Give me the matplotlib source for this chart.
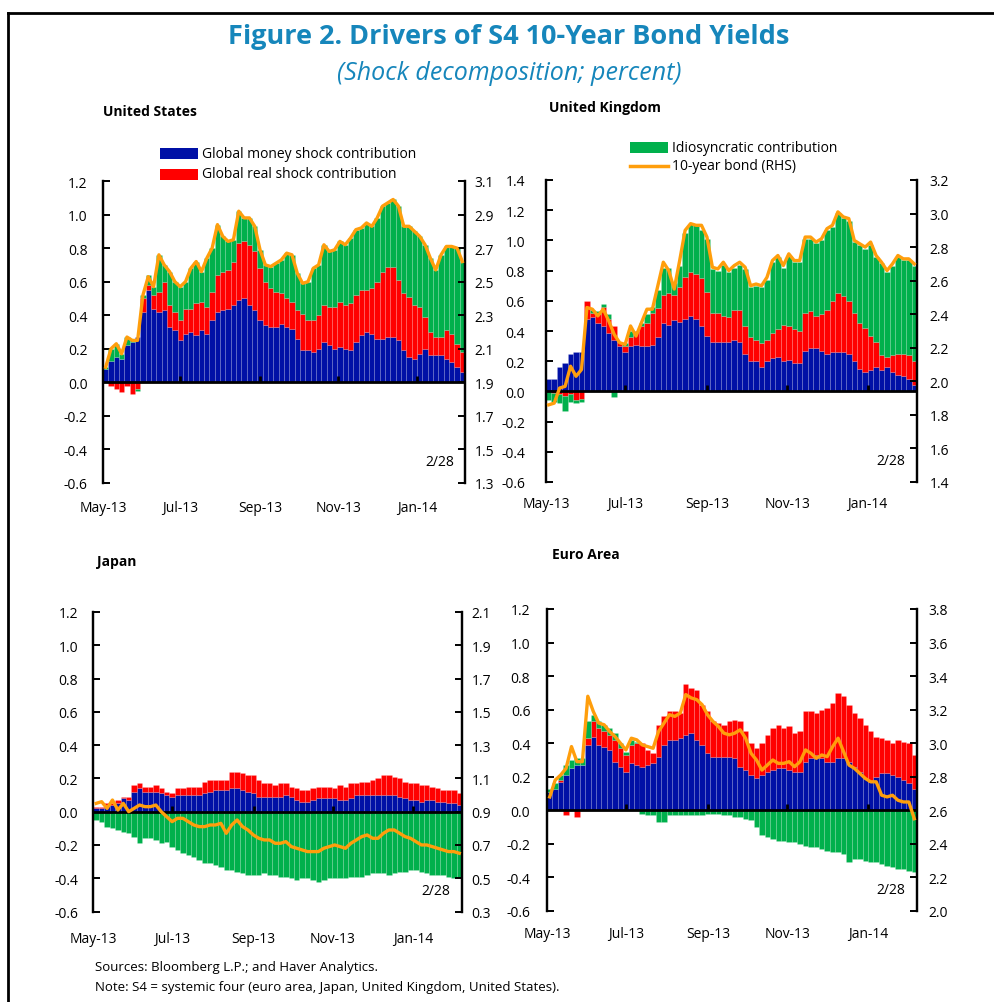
import matplotlib
matplotlib.use('Agg')
import matplotlib.pyplot as plt
from matplotlib.patches import Rectangle
from matplotlib.lines import Line2D

W, H = 995, 1003
plt.rcParams['font.family'] = ['Open Sans', 'DejaVu Sans']

BLUE = '#0010A6'
RED = '#FF0000'
GREEN = '#00B04C'
ORANGE = '#FF9E0C'
TITLE_C = '#1686BB'

month_labels = ['May-13', 'Jul-13', 'Sep-13', 'Nov-13', 'Jan-14']
month_frac = [0.0, 0.214, 0.435, 0.650, 0.867]

# ---------------- United States ----------------
us_money = [0.08,0.13,0.15,0.14,0.22,0.24,0.27,0.42,0.55,0.44, 0.42,0.43,0.33,0.31,0.25,0.29,0.30,0.28,0.31,0.29,
            0.37,0.42,0.43,0.44,0.46,0.49,0.50,0.46,0.43,0.37, 0.34,0.33,0.33,0.35,
            0.33,0.32,0.26,0.19,0.19,0.18,0.20,0.24,0.22,0.20, 0.21,0.20,0.19,0.24,0.28,0.30,0.29,0.26,0.26,0.27,
            0.27,0.25,0.19,0.15,0.14,0.17,0.20,0.16,0.16,0.16, 0.14,0.12,0.09,0.06]
us_real = [0.00,-0.02,-0.04,-0.06,-0.02,-0.07,-0.04,0.08,0.03,0.08, 0.12,0.17,0.13,0.11,0.12,0.15,0.14,0.19,0.17,0.16,
           0.17,0.22,0.23,0.23,0.26,0.34,0.34,0.36,0.35,0.31, 0.26,0.23,0.21,0.18,
           0.17,0.16,0.17,0.22,0.18,0.19,0.20,0.22,0.23,0.25, 0.27,0.26,0.28,0.28,0.27,0.25,0.27,0.34,0.40,0.42,
           0.42,0.36,0.34,0.36,0.32,0.28,0.19,0.14,0.11,0.11, 0.17,0.17,0.14,0.12]
us_idio = [0.01,0.07,0.08,0.03,0.05,0.01,-0.01,0.02,0.06,0.05, 0.22,0.10,0.20,0.18,0.20,0.16,0.24,0.25,0.18,0.29,
           0.26,0.30,0.21,0.17,0.13,0.19,0.14,0.16,0.15,0.11, 0.10,0.13,0.17,0.20,
           0.27,0.28,0.22,0.18,0.23,0.31,0.30,0.36,0.33,0.34, 0.36,0.36,0.39,0.39,0.37,0.40,0.37,0.38,0.39,0.38,
           0.40,0.44,0.40,0.42,0.44,0.42,0.43,0.44,0.40,0.49, 0.50,0.52,0.57,0.54]
us_bond = [1.99,2.10,2.13,2.07,2.17,2.15,2.15,2.42,2.53,2.47, 2.66,2.60,2.56,2.50,2.47,2.50,2.58,2.62,2.56,2.64,
           2.70,2.84,2.77,2.74,2.75,2.92,2.88,2.88,2.83,2.69, 2.60,2.59,2.61,2.63,
           2.67,2.66,2.55,2.49,2.50,2.58,2.60,2.72,2.68,2.69, 2.74,2.72,2.76,2.81,2.82,2.85,2.83,2.88,2.95,2.97,
           2.99,2.95,2.83,2.83,2.80,2.77,2.72,2.64,2.57,2.66, 2.71,2.71,2.70,2.62]

# ---------------- United Kingdom ----------------
uk_money = [0.08,0.08,0.16,0.19,0.25,0.26,0.26,0.48,0.49,0.45, 0.43,0.39,0.34,0.30,0.26,0.30,0.31,0.30,0.30,0.31,
            0.36,0.45,0.44,0.47,0.46,0.48,0.50,0.48,0.43,0.37, 0.33,0.33,0.33,0.33,
            0.34,0.33,0.25,0.20,0.20,0.16,0.20,0.22,0.23,0.20, 0.21,0.19,0.19,0.27,0.29,0.29,0.27,0.25,0.26,0.26,
            0.26,0.25,0.20,0.15,0.13,0.14,0.16,0.14,0.16,0.13, 0.11,0.10,0.08,0.04]
uk_real = [0.00,-0.01,-0.02,-0.03,-0.02,-0.06,-0.05,0.12,0.03,0.06, 0.13,0.09,0.09,0.03,0.04,0.06,0.09,0.13,0.15,0.21,
           0.19,0.19,0.21,0.17,0.23,0.28,0.29,0.30,0.32,0.29, 0.19,0.19,0.17,0.16,
           0.20,0.21,0.18,0.16,0.14,0.16,0.14,0.17,0.18,0.24, 0.22,0.22,0.21,0.25,0.24,0.21,0.24,0.29,0.34,0.39,
           0.37,0.35,0.32,0.30,0.29,0.23,0.17,0.10,0.07,0.11, 0.14,0.15,0.16,0.16]
uk_idio = [-0.06,-0.06,-0.06,-0.10,-0.05,-0.02,-0.02,0.00,0.02,0.02, 0.02,0.03,-0.04,0.00,0.02,0.04,0.00,0.02,0.06,0.04,
           0.12,0.18,0.17,0.08,0.14,0.29,0.32,0.32,0.32,0.35, 0.29,0.28,0.34,0.30,
           0.28,0.30,0.38,0.33,0.36,0.37,0.40,0.47,0.48,0.38, 0.47,0.45,0.46,0.49,0.48,0.48,0.49,0.53,0.49,0.53,
           0.52,0.53,0.47,0.52,0.52,0.60,0.56,0.61,0.56,0.59, 0.64,0.62,0.63,0.63]
uk_bond = [1.86,1.87,1.96,1.97,2.09,2.03,2.07,2.44,2.43,2.39, 2.43,2.36,2.28,2.23,2.22,2.33,2.27,2.35,2.43,2.43,
           2.57,2.71,2.66,2.55,2.72,2.90,2.94,2.93,2.93,2.86, 2.68,2.67,2.71,2.66,
           2.69,2.71,2.68,2.57,2.58,2.57,2.62,2.72,2.75,2.69, 2.76,2.72,2.72,2.86,2.86,2.83,2.85,2.91,2.93,3.01,
           2.98,2.97,2.84,2.82,2.80,2.83,2.75,2.71,2.66,2.70, 2.75,2.73,2.73,2.70]

# ---------------- Japan ----------------
jp_money = [0.02,0.02,0.04,0.04,0.05,0.08,0.07,0.12,0.14,0.12, 0.12,0.12,0.11,0.10,0.09,0.10,0.10,0.10,0.10,0.10,
            0.11,0.12,0.13,0.13,0.13,0.14,0.14,0.13,0.12,0.11, 0.09,0.09,0.09,0.09,
            0.09,0.10,0.09,0.07,0.06,0.06,0.07,0.08,0.08,0.08, 0.08,0.07,0.07,0.08,0.10,0.10,0.10,0.10,0.10,0.10,
            0.10,0.10,0.09,0.08,0.07,0.07,0.06,0.07,0.07,0.06, 0.06,0.05,0.05,0.04]
jp_real = [0.01,0.01,0.01,0.01,0.02,0.01,0.02,0.04,0.03,0.03, 0.03,0.04,0.03,0.02,0.02,0.04,0.04,0.05,0.05,0.05,
           0.07,0.07,0.06,0.06,0.06,0.10,0.10,0.10,0.10,0.11, 0.10,0.08,0.08,0.07,
           0.08,0.07,0.06,0.07,0.07,0.07,0.07,0.07,0.07,0.07, 0.06,0.09,0.08,0.09,0.07,0.08,0.08,0.09,0.10,0.12,
           0.12,0.11,0.11,0.10,0.10,0.10,0.10,0.09,0.08,0.08, 0.07,0.08,0.08,0.07]
jp_idio = [-0.05,-0.06,-0.09,-0.10,-0.11,-0.12,-0.13,-0.15,-0.19,-0.16, -0.16,-0.17,-0.19,-0.18,-0.21,-0.23,-0.25,-0.26,-0.27,-0.29,
           -0.31,-0.31,-0.32,-0.33,-0.35,-0.35,-0.36,-0.37,-0.38,-0.38, -0.38,-0.37,-0.38,-0.38,
           -0.39,-0.39,-0.40,-0.41,-0.40,-0.40,-0.41,-0.42,-0.41,-0.40, -0.40,-0.40,-0.40,-0.39,-0.39,-0.39,-0.38,-0.37,-0.37,-0.37,
           -0.38,-0.37,-0.36,-0.36,-0.35,-0.35,-0.36,-0.37,-0.38,-0.38, -0.38,-0.39,-0.40,-0.39]
jp_bond = [0.95,0.96,0.92,0.97,0.91,0.95,0.90,0.92,0.94,0.93, 0.93,0.94,0.90,0.87,0.84,0.86,0.86,0.84,0.82,0.81,
           0.81,0.82,0.82,0.83,0.77,0.82,0.85,0.81,0.79,0.76, 0.74,0.73,0.73,0.71,
           0.71,0.72,0.69,0.68,0.67,0.66,0.66,0.66,0.68,0.69, 0.70,0.69,0.68,0.71,0.73,0.75,0.76,0.74,0.74,0.77,
           0.79,0.79,0.77,0.75,0.74,0.72,0.70,0.70,0.69,0.68, 0.67,0.66,0.66,0.65]

# ---------------- Euro Area ----------------
ea_money = [0.11,0.13,0.17,0.21,0.25,0.27,0.27,0.39,0.44,0.39, 0.38,0.36,0.29,0.26,0.23,0.28,0.27,0.26,0.27,0.28,
            0.32,0.39,0.42,0.42,0.43,0.45,0.46,0.42,0.39,0.34, 0.32,0.32,0.32,0.32,
            0.31,0.26,0.24,0.21,0.19,0.21,0.23,0.24,0.25,0.25, 0.24,0.23,0.23,0.29,0.31,0.33,0.31,0.29,0.29,0.31,
            0.31,0.29,0.26,0.23,0.19,0.17,0.20,0.22,0.22,0.21, 0.20,0.18,0.16,0.13]
ea_real = [0.00,0.00,0.01,-0.03,0.00,-0.04,0.00,0.04,0.09,0.10, 0.09,0.09,0.13,0.11,0.10,0.11,0.13,0.14,0.09,0.06,
           0.19,0.17,0.17,0.17,0.15,0.30,0.27,0.30,0.24,0.25, 0.21,0.20,0.19,0.21,
           0.23,0.27,0.23,0.19,0.18,0.19,0.22,0.25,0.26,0.24, 0.26,0.23,0.24,0.30,0.28,0.25,0.29,0.32,0.35,0.39,
           0.37,0.34,0.32,0.32,0.32,0.30,0.24,0.21,0.20,0.19, 0.22,0.23,0.24,0.20]
ea_idio = [0.02,0.03,0.03,0.06,0.05,0.04,0.04,0.10,0.04,0.04, 0.04,0.04,0.04,0.03,0.02,0.03,0.01,-0.02,-0.03,-0.03,
           -0.07,-0.07,-0.03,-0.03,-0.03,-0.03,-0.03,-0.03,-0.03,-0.02, -0.02,-0.02,-0.03,-0.03,
           -0.04,-0.04,-0.05,-0.06,-0.10,-0.15,-0.16,-0.17,-0.18,-0.18, -0.19,-0.19,-0.20,-0.21,-0.22,-0.22,-0.23,-0.24,-0.25,-0.25,
           -0.26,-0.31,-0.29,-0.29,-0.30,-0.31,-0.31,-0.32,-0.33,-0.34, -0.35,-0.35,-0.36,-0.37]
ea_bond = [2.68,2.78,2.81,2.85,2.98,2.89,2.89,3.28,3.19,3.12, 3.11,3.07,3.04,3.00,2.96,3.03,3.02,2.99,2.98,2.97,
           3.07,3.12,3.17,3.16,3.18,3.29,3.27,3.26,3.23,3.17, 3.13,3.10,3.06,3.05,
           3.06,3.08,3.03,2.94,2.90,2.84,2.87,2.90,2.88,2.88, 2.89,2.86,2.89,2.96,2.94,2.91,2.93,2.92,2.98,3.03,
           2.95,2.87,2.85,2.82,2.79,2.77,2.77,2.69,2.68,2.69, 2.66,2.65,2.65,2.55]

fig = plt.figure(figsize=(W / 100, H / 100), dpi=100)


def rect(l, t, r, b):
    return [l / W, 1 - b / H, (r - l) / W, (b - t) / H]


def ticks(lo, hi):
    n = int(round((hi - lo) / 0.2))
    return [round(lo + 0.2 * i, 1) for i in range(n + 1)]


def panel(box, money, real, idio, bond, ylim, rlim, lpad, rpad, xpad):
    ax = fig.add_axes(rect(*box))
    n = len(money)
    x = list(range(n))
    pos = [0.0] * n
    neg = [0.0] * n
    for vals, col in ((money, BLUE), (real, RED), (idio, GREEN)):
        bottoms = [pos[i] if v >= 0 else neg[i] for i, v in enumerate(vals)]
        ax.bar(x, vals, width=1.0, bottom=bottoms, color=col,
               edgecolor=(1, 1, 1, 0.2), linewidth=0.4, zorder=2)
        for i, v in enumerate(vals):
            if v >= 0:
                pos[i] += v
            else:
                neg[i] += v
    ax.set_xlim(-0.5, n - 0.5)
    ax.set_ylim(*ylim)
    ax.axhline(0, color='black', lw=2.0, zorder=3)
    xt = [-0.5 + f * n for f in month_frac]
    ax.plot(xt[1:], [0] * (len(xt) - 1), ls='none', marker=2, ms=4, mew=2,
            color='black', zorder=4, clip_on=False)
    ax.set_xticks(xt)
    ax.set_xticklabels(month_labels, fontsize=10)
    ax.tick_params(axis='x', length=0, pad=xpad)
    lt = ticks(*ylim)
    ax.set_yticks(lt)
    ax.set_yticklabels(['%.1f' % v for v in lt], fontsize=10)
    ax.tick_params(axis='y', direction='in', length=5, width=1.4, pad=lpad)
    for s in ('top', 'bottom'):
        ax.spines[s].set_visible(False)
    for s in ('left', 'right'):
        ax.spines[s].set_linewidth(1.6)
    ax2 = ax.twinx()
    ax2.plot(x, bond, color=ORANGE, lw=2.4, zorder=5)
    ax2.set_ylim(*rlim)
    rt = ticks(*rlim)
    ax2.set_yticks(rt)
    ax2.set_yticklabels(['%.1f' % v for v in rt], fontsize=10)
    ax2.tick_params(axis='y', direction='in', length=5, width=1.4, pad=rpad)
    for s in ('top', 'bottom'):
        ax2.spines[s].set_visible(False)
    for s in ('left', 'right'):
        ax2.spines[s].set_linewidth(1.6)
    ax.text(0.93, 0.07, '2/28', transform=ax.transAxes, ha='center',
            va='center', fontsize=10)
    return ax


panel((103, 182, 465, 484), us_money, us_real, us_idio, us_bond,
      (-0.6, 1.2), (1.3, 3.1), 11, 7, 12)
panel((546, 181, 917, 483), uk_money, uk_real, uk_idio, uk_bond,
      (-0.6, 1.4), (1.4, 3.2), 15, 9, 10)
panel((93.5, 613, 462, 912.5), jp_money, jp_real, jp_idio, jp_bond,
      (-0.6, 1.2), (0.3, 2.1), 11, 7, 14)
panel((547, 610, 917, 912), ea_money, ea_real, ea_idio, ea_bond,
      (-0.6, 1.2), (2.0, 3.8), 12, 8, 11)


def ftext(px, py, s, **kw):
    fig.text(px / W, 1 - py / H, s, **kw)


ftext(509, 37, 'Figure 2. Drivers of S4 10-Year Bond Yields', ha='center',
      va='center', fontsize=19.5, fontweight='bold', color=TITLE_C)
ftext(509, 73, '(Shock decomposition; percent)', ha='center', va='center',
      fontsize=18, fontstyle='italic', color=TITLE_C)
ftext(103, 112, 'United States', ha='left', va='center', fontsize=10, fontweight='bold')
ftext(549, 108, 'United Kingdom', ha='left', va='center', fontsize=10, fontweight='bold')
ftext(97, 562, 'Japan', ha='left', va='center', fontsize=10, fontweight='bold')
ftext(552, 555, 'Euro Area', ha='left', va='center', fontsize=10, fontweight='bold')

# legend
for (lx, ly, col, lab) in ((160, 154, BLUE, 'Global money shock contribution'),
                           (160, 175, RED, 'Global real shock contribution'),
                           (630, 148, GREEN, 'Idiosyncratic contribution')):
    fig.add_artist(Rectangle((lx / W, 1 - (ly + 5.5) / H), 38 / W, 11 / H,
                             transform=fig.transFigure, facecolor=col, edgecolor='none'))
    ftext(lx + 42, ly, lab, ha='left', va='center', fontsize=10)
fig.add_artist(Line2D([630 / W, 668 / W], [1 - 167 / H, 1 - 167 / H],
                      transform=fig.transFigure, color=ORANGE, lw=2.5))
ftext(672, 167, '10-year bond (RHS)', ha='left', va='center', fontsize=10)

ftext(95, 968, 'Sources: Bloomberg L.P.; and Haver Analytics.', ha='left',
      va='center', fontsize=9.5)
ftext(95, 988, 'Note: S4 = systemic four (euro area, Japan, United Kingdom, United States).',
      ha='left', va='center', fontsize=9.5)

# frame
fig.add_artist(Line2D([8 / W, 8 / W], [0, 1 - 14 / H], transform=fig.transFigure,
                      color='black', lw=2))
fig.add_artist(Line2D([8 / W, 1], [1 - 14 / H, 1 - 14 / H], transform=fig.transFigure,
                      color='black', lw=2))

fig.savefig('out.png', dpi=100)
